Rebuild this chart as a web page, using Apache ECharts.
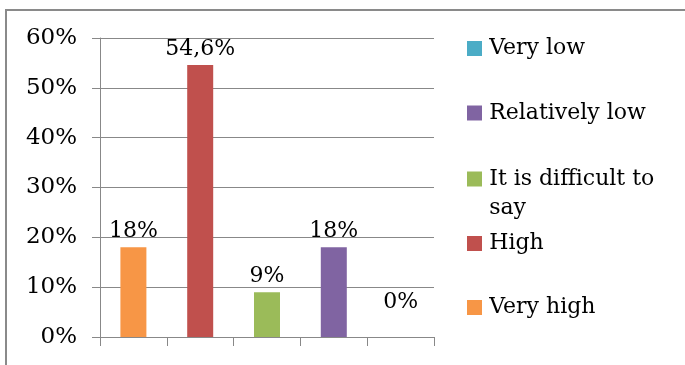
<!DOCTYPE html>
<html>
<head>
<meta charset="utf-8">
<script src="https://cdn.jsdelivr.net/npm/echarts@6/dist/echarts.min.js"></script>
<style>
  html, body { margin: 0; padding: 0; background: #fff; }
  #frame {
    position: absolute; left: 5px; top: 9px; width: 690px; height: 366px;
    border-left: 2px solid #8a8a8a; border-top: 2px solid #8a8a8a;
  }
  #chart { position: absolute; left: 0; top: 0; width: 685px; height: 365px; }
</style>
</head>
<body>
<div id="frame"></div>
<div id="chart"></div>
<script>
// categories along the x axis, left to right
const categories = ["Very high", "High", "It is difficult to say", "Relatively low", "Very low"];
const values = [18, 54.6, 9, 18, 0];
const colors = ["#F79646", "#C0504D", "#9BBB59", "#8064A2", "#4BACC6"];
// legend reads top to bottom in reverse
const legendOrder = ["Very low", "Relatively low", "It is difficult to say", "High", "Very high"];
const yMin = 0, yMax = 60, yStep = 10;

const font = "DejaVu Serif";
const legendCenters = [48.5, 113, 179, 243.5, 307.5];

let chart = echarts.init(document.getElementById("chart"));

let legends = legendOrder.map((name, i) => {
  let wrapped = name === "It is difficult to say";
  return {
    data: [name],
    orient: "vertical",
    left: 467,
    top: wrapped ? legendCenters[i] - 43.5 : legendCenters[i] - 11,
    padding: 0,
    icon: "rect",
    itemWidth: 15,
    itemHeight: 15,
    selectedMode: false,
    // empty first line keeps the icon level with "It is difficult to"
    formatter: (n) => (n === "It is difficult to say" ? "\n\u200AIt is difficult to\n\u200Asay" : "\u200A" + n),
    textStyle: {
      fontFamily: font,
      fontSize: 22,
      color: "#000",
      lineHeight: wrapped ? 29 : 22,
    },
  };
});

let series = categories.map((name, i) => ({
  name: name,
  type: "bar",
  barWidth: 26,
  barGap: "-100%",
  itemStyle: { color: colors[i] },
  label: {
    show: true,
    position: "top",
    distance: 5,
    offset: values[i] === 0 ? [0, -19] : [0, 0],
    fontFamily: font,
    fontSize: 22,
    color: "#000",
    formatter: (p) => String(p.value).replace(".", ",") + "%",
  },
  data: categories.map((c, j) => (j === i ? values[i] : "-")),
}));

chart.setOption({
  animation: false,
  backgroundColor: "transparent",
  legend: legends,
  grid: { left: 100, right: 251, top: 38, bottom: 28, containLabel: false },
  xAxis: {
    type: "category",
    data: categories,
    axisLine: { show: true, lineStyle: { color: "#888", width: 1 } },
    axisTick: { show: true, interval: 0, length: 9, lineStyle: { color: "#888" } },
    axisLabel: { show: false, interval: 0 },
  },
  yAxis: {
    type: "value",
    min: yMin,
    max: yMax,
    interval: yStep,
    axisLine: { show: true, lineStyle: { color: "#888", width: 1 } },
    axisTick: { show: true, length: 8, lineStyle: { color: "#888" } },
    splitLine: { show: true, lineStyle: { color: "#888", width: 1 } },
    axisLabel: {
      margin: 23,
      fontFamily: font,
      fontSize: 23,
      color: "#000",
      formatter: "{value}%",
    },
  },
  series: series,
});
</script>
</body>
</html>
